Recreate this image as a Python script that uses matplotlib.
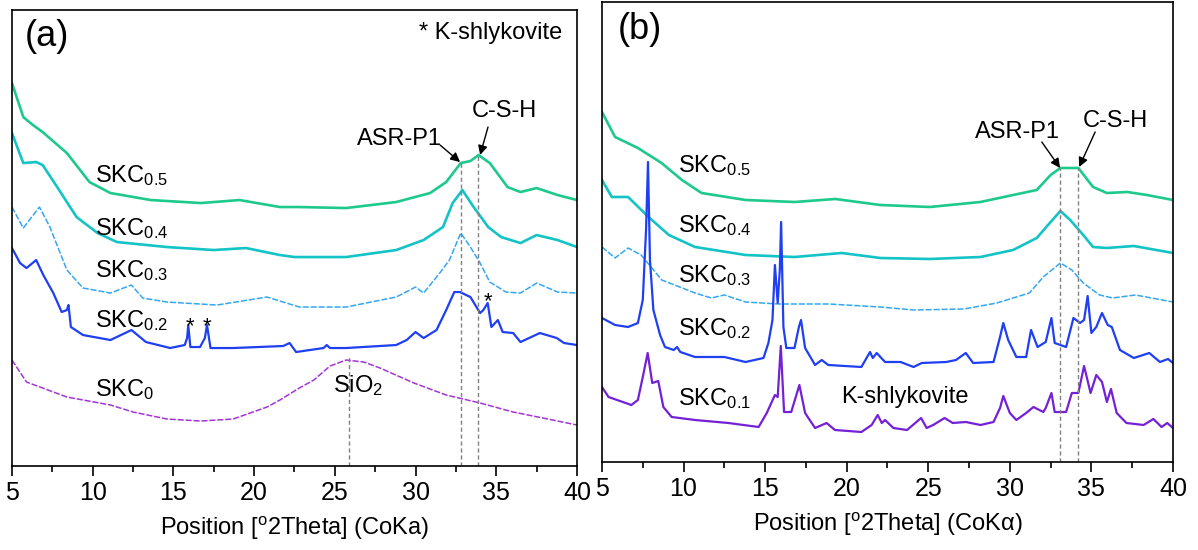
import numpy as np
import matplotlib
matplotlib.use("Agg")
import matplotlib.pyplot as plt
from matplotlib.ticker import MultipleLocator

plt.rcParams['font.family'] = ['Liberation Sans', 'DejaVu Sans']
plt.rcParams['mathtext.fontset'] = 'custom'
plt.rcParams['mathtext.rm'] = 'Liberation Sans'
plt.rcParams['mathtext.it'] = 'Liberation Sans:italic'

# ---- panel (a) data, stacked intensities (a.u.) ----
a05_x = [5, 5.7, 6.3, 6.9, 8.4, 9.8, 11.1, 13.6, 16.7, 19.1, 21.6, 22.8, 25.7, 28.8, 30.9, 31.9, 32.8, 33.4, 33.9, 34.6, 35.7, 36.5, 37.5, 38.8, 40]
a05_y = [383, 349, 341, 334, 313, 284, 273, 266, 263, 266, 259, 259, 258, 264, 273, 284, 303, 305, 311, 303, 279, 274, 278, 271, 266]

a04_x = [5, 5.7, 6.5, 6.9, 7.8, 9.0, 10.3, 11.5, 14.6, 17.5, 19.5, 21.6, 22.5, 25.7, 28.8, 30.5, 31.7, 32.3, 32.9, 33.6, 34.5, 35.3, 36.5, 37.5, 38.8, 40]
a04_y = [333, 303, 304, 301, 279, 249, 233, 224, 219, 216, 218, 211, 209, 209, 216, 226, 239, 263, 276, 259, 239, 229, 223, 231, 226, 219]

a03_x = [5, 5.7, 6.7, 7.35, 8.4, 9.4, 11.1, 12.4, 13.1, 14.6, 17.7, 20.8, 22.8, 25.7, 28.8, 30.0, 30.5, 31.5, 32.1, 32.8, 33.4, 34.0, 34.6, 35.6, 36.5, 37.5, 38.8, 40]
a03_y = [259, 238, 259, 239, 196, 178, 173, 181, 168, 164, 161, 169, 159, 159, 169, 179, 173, 193, 206, 233, 219, 203, 184, 174, 173, 183, 174, 173]

a02_x = [5, 5.5, 5.9, 6.5, 6.94, 7.56, 8.08, 8.4, 8.5, 8.65, 9.4, 11.1, 12.4, 13.3, 14.8, 15.7, 15.85, 15.92, 16.05, 16.65, 16.95, 17.08, 17.3,
         18.7, 21.8, 22.2, 22.6, 24.3, 24.5, 24.7, 25.7, 28.8, 29.45, 30.0, 30.5, 31.3, 31.9, 32.4, 32.75, 33.4, 34.0, 34.2, 34.47, 34.7,
         35.1, 35.4, 36.05, 36.5, 37.7, 38.75, 39.2, 40]
a02_y = [218, 203, 198, 206, 191, 173, 154, 156, 161, 139, 131, 126, 136, 124, 118, 121, 128, 141, 119, 119, 128, 141, 118,
         118, 120, 123, 114, 118, 121, 118, 118, 121, 126, 134, 128, 136, 156, 174, 174, 169, 153, 156, 163, 139,
         146, 134, 133, 124, 133, 128, 123, 121]

a00_x = [5, 5.9, 8.4, 11.1, 12.5, 14.6, 16.7, 18.7, 20.8, 21.6, 22.8, 23.7, 24.7, 25.7, 26.8, 27.8, 29.9, 31.9, 34.0, 36.05, 37.9, 40]
a00_y = [106, 84, 69, 61, 54, 47, 45, 47, 59, 66, 78, 86, 100, 106, 104, 98, 83, 71, 63, 54, 48, 41]

# ---- panel (b) data ----
b05_x = [5, 5.8, 7.2, 8.65, 9.9, 11.1, 13.8, 16.8, 19.3, 22.05, 25.1, 28.2, 30.2, 31.65, 32.5, 33.1, 33.7, 34.2, 35.1, 35.95, 37.2, 38.4, 40]
b05_y = [350, 325, 314, 299, 282, 269, 262, 260, 263, 257, 255, 260, 267, 272, 287, 294, 294, 294, 275, 269, 270, 267, 262]

b04_x = [5, 5.6, 6.6, 7.85, 9.1, 10.7, 13.8, 16.8, 19.7, 22.05, 25.1, 28.2, 30.2, 31.65, 32.5, 33.1, 33.7, 34.5, 35.1, 35.95, 37.6, 40]
b04_y = [282, 265, 265, 245, 227, 215, 207, 205, 209, 204, 203, 205, 212, 224, 240, 251, 242, 227, 215, 214, 216, 209]

b03_x = [5, 5.8, 6.6, 7.4, 8.66, 10.7, 11.7, 12.5, 13.8, 15.8, 18.9, 22.05, 24.1, 27.2, 29.2, 31.2, 32.05, 33.1, 33.8, 34.5, 35.5, 36.3, 37.7, 40]
b03_y = [215, 204, 214, 207, 182, 169, 164, 167, 160, 158, 158, 155, 152, 153, 159, 169, 185, 199, 192, 179, 167, 164, 167, 160]

b02_x = [5, 5.8, 6.6, 7.2, 7.5, 7.7, 7.82, 7.94, 8.15, 8.56, 8.86, 9.4, 9.6, 9.8, 10.7, 12.5, 13.8, 14.9, 15.2, 15.45, 15.6, 15.77,
         15.9, 15.98, 16.12, 16.3, 16.8, 17.07, 17.2, 17.45, 18.06, 18.47, 18.87, 20.9, 21.43, 21.6, 21.84, 22.35, 23.3, 24.1,
         24.6, 26.1, 26.7, 27.3, 27.75, 29.0, 29.4, 29.6, 29.9, 30.4, 31.0, 31.3, 31.7, 32.2, 32.55, 32.75, 33.45, 33.9, 34.3,
         34.55, 34.77, 35.0, 35.3, 35.65, 36.0, 36.25, 36.75, 37.6, 38.55, 39.2, 39.7, 40]
b02_y = [144, 137, 135, 139, 162, 232, 300, 202, 152, 127, 115, 112, 115, 110, 105, 105, 100, 104, 119, 142, 197, 159,
         192, 240, 135, 114, 114, 135, 142, 114, 97, 102, 97, 95, 110, 104, 109, 100, 100, 95,
         99, 100, 102, 109, 99, 100, 125, 139, 122, 105, 105, 132, 115, 120, 144, 119, 115, 144, 139,
         142, 166, 129, 135, 149, 137, 135, 112, 104, 109, 100, 103, 99]

b01_x = [5, 5.4, 6.8, 7.2, 7.5, 7.8, 8.08, 8.45, 8.76, 9.27, 10.7, 12.75, 14.6, 15.1, 15.6, 15.77, 15.96, 16.16, 16.6, 17.1,
         17.45, 18.06, 18.77, 19.28, 20.9, 21.53, 21.9, 22.15, 22.35, 22.86, 23.7, 24.56, 24.9, 25.3, 26.0, 26.5, 27.3, 28.2,
         29.0, 29.4, 29.6, 30.0, 30.4, 31.0, 31.45, 32.05, 32.2, 32.55, 32.75, 33.45, 33.8, 34.2, 34.55, 34.95, 35.3, 35.65,
         35.95, 36.2, 36.55, 37.15, 38.2, 38.8, 39.3, 39.65, 40]
b01_y = [75, 65, 57, 62, 85, 109, 79, 81, 55, 45, 42, 39, 35, 49, 67, 65, 116, 50, 50, 77,
         49, 34, 39, 32, 30, 37, 47, 39, 42, 34, 32, 44, 34, 37, 44, 39, 40, 37,
         40, 54, 66, 49, 42, 49, 55, 50, 54, 69, 50, 50, 69, 69, 96, 69, 87, 80,
         60, 73, 49, 39, 37, 43, 35, 39, 34]

green = '#1ec98c'
teal = '#14c3c6'
lblue = '#35a7f3'
blue = '#1f3ff2'
purple_a = '#a335d6'
purple_b = '#7420d6'
dash = (0, (4, 1.2))

fig = plt.figure(figsize=(11.98, 5.5), dpi=100)
ax1 = fig.add_axes([0.010, 0.1527, 0.4716, 0.829])
ax2 = fig.add_axes([0.5025, 0.160, 0.4766, 0.8364])

ax1.plot(a05_x, a05_y, color=green, lw=1.9)
ax1.plot(a04_x, a04_y, color=teal, lw=1.9)
ax1.plot(a03_x, a03_y, color=lblue, lw=1.1, ls=dash)
ax1.plot(a02_x, a02_y, color=blue, lw=1.6)
ax1.plot(a00_x, a00_y, color=purple_a, lw=1.1, ls=dash)

ax2.plot(b05_x, b05_y, color=green, lw=1.9)
ax2.plot(b04_x, b04_y, color=teal, lw=1.9)
ax2.plot(b03_x, b03_y, color=lblue, lw=1.1, ls=dash)
ax2.plot(b02_x, b02_y, color=blue, lw=1.6)
ax2.plot(b01_x, b01_y, color=purple_b, lw=1.6)

for ax, top in ((ax1, 456), (ax2, 460)):
    ax.set_xlim(5, 40)
    ax.set_ylim(0, top)
    ax.set_yticks([])
    ax.xaxis.set_major_locator(MultipleLocator(5))
    ax.xaxis.set_minor_locator(MultipleLocator(2.5))
    ax.tick_params(axis='x', which='major', direction='out', length=7, width=1.2, labelsize=18, pad=4)
    ax.tick_params(axis='x', which='minor', direction='out', length=4, width=1.2)
    for s in ax.spines.values():
        s.set_linewidth(1.2)

ax1.set_xlabel('Position [$^{\\mathrm{o}}$2Theta] (CoKa)', fontsize=17, labelpad=7)
ax2.set_xlabel('Position [$^{\\mathrm{o}}$2Theta] (CoK\u03b1)', fontsize=17, labelpad=7)

# dashed reference lines
ax1.vlines([25.9], 0, 109, colors='gray', linestyles=(0, (3, 2)), lw=1)
ax1.vlines([32.8], 0, 303, colors='gray', linestyles=(0, (3, 2)), lw=1)
ax1.vlines([33.9], 0, 311, colors='gray', linestyles=(0, (3, 2)), lw=1)
ax2.vlines([33.08, 34.2], 0, 294, colors='gray', linestyles=(0, (3, 2)), lw=1)

# panel (a) labels
fs = 17
ax1.text(5.8, 430, '(a)', fontsize=26, va='center', ha='left')
ax1.text(39.1, 433, '* K-shlykovite', fontsize=17, va='center', ha='right')
ax1.text(10.14, 284, 'SKC$_{\\mathrm{0.5}}$', fontsize=fs)
ax1.text(10.14, 231, 'SKC$_{\\mathrm{0.4}}$', fontsize=fs)
ax1.text(10.14, 189, 'SKC$_{\\mathrm{0.3}}$', fontsize=fs)
ax1.text(10.14, 139, 'SKC$_{\\mathrm{0.2}}$', fontsize=fs)
ax1.text(10.14, 70, 'SKC$_{\\mathrm{0}}$', fontsize=fs)
ax1.text(24.9, 74, 'SiO$_{\\mathrm{2}}$', fontsize=fs)
for xs, ys in ((16.0, 134), (17.1, 134), (34.5, 159)):
    ax1.text(xs, ys, '*', fontsize=16, ha='center')
ax1.text(26.37, 321, 'ASR-P1', fontsize=fs)
ax1.text(33.5, 349, 'C-S-H', fontsize=fs)
arr = dict(arrowstyle='-|>', color='black', lw=1, mutation_scale=14, shrinkA=0, shrinkB=0)
ax1.annotate('', xy=(32.76, 304), xytext=(31.52, 321), arrowprops=arr)
ax1.annotate('', xy=(34.0, 311), xytext=(34.49, 339), arrowprops=arr)

# panel (b) labels
ax2.text(5.98, 432, '(b)', fontsize=26, va='center', ha='left')
ax2.text(9.66, 290, 'SKC$_{\\mathrm{0.5}}$', fontsize=fs)
ax2.text(9.66, 230, 'SKC$_{\\mathrm{0.4}}$', fontsize=fs)
ax2.text(9.66, 180, 'SKC$_{\\mathrm{0.3}}$', fontsize=fs)
ax2.text(9.66, 127, 'SKC$_{\\mathrm{0.2}}$', fontsize=fs)
ax2.text(9.66, 57, 'SKC$_{\\mathrm{0.1}}$', fontsize=fs)
ax2.text(19.65, 59, 'K-shlykovite', fontsize=fs)
ax2.text(27.87, 324, 'ASR-P1', fontsize=fs)
ax2.text(34.49, 335, 'C-S-H', fontsize=fs)
ax2.annotate('', xy=(33.08, 294), xytext=(31.96, 320), arrowprops=arr)
ax2.annotate('', xy=(34.25, 295), xytext=(35.23, 330), arrowprops=arr)

fig.savefig('out.png', dpi=100)
